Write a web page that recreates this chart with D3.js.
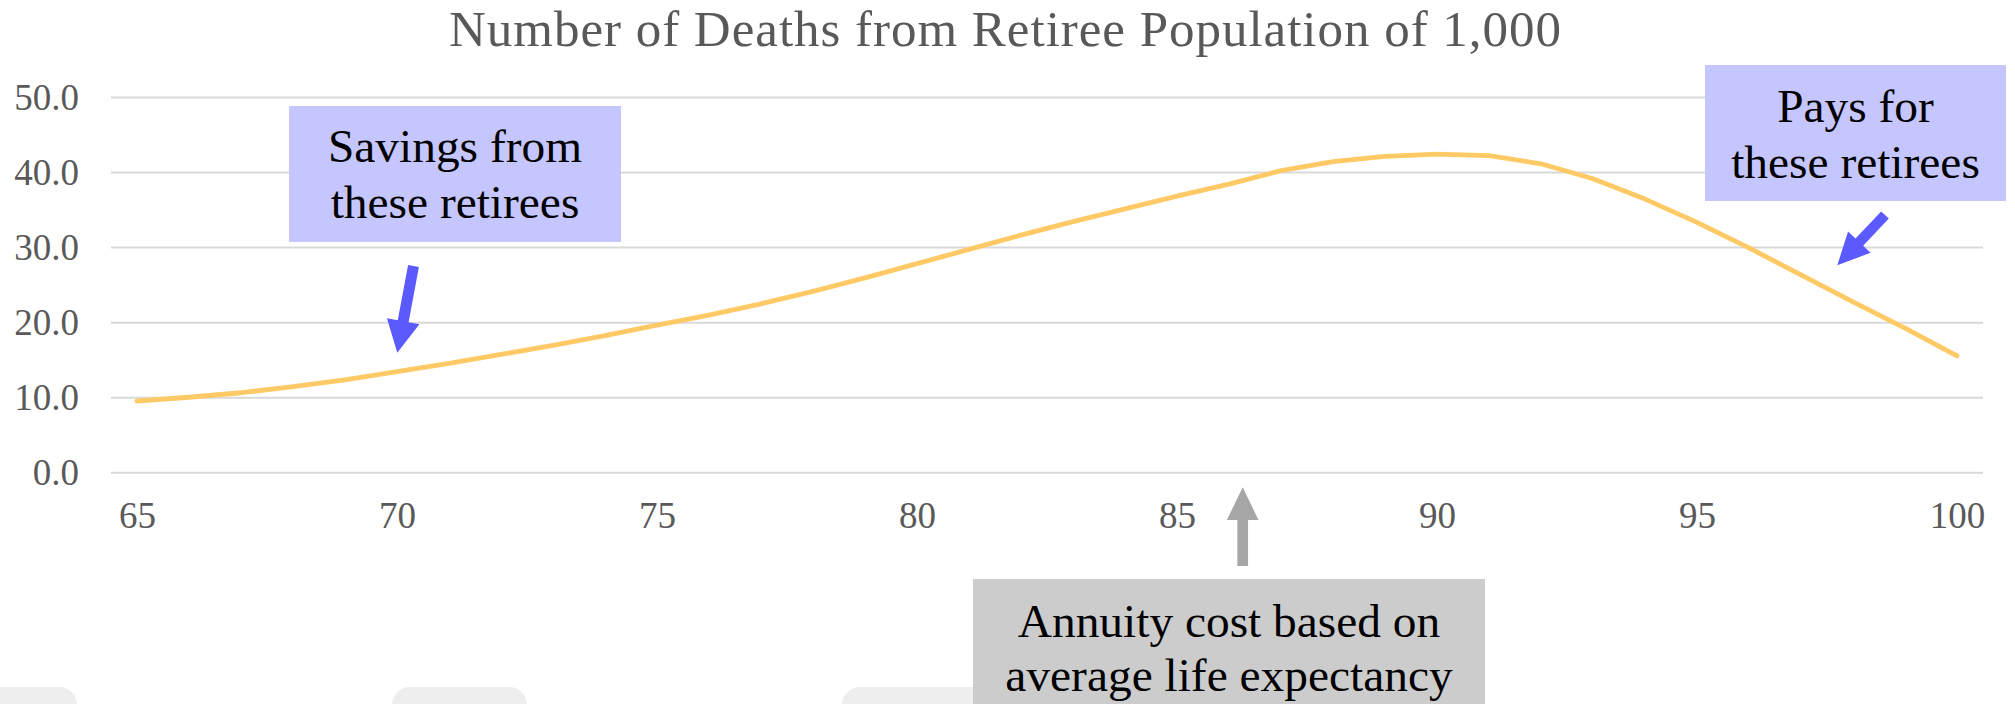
<!DOCTYPE html>
<html>
<head>
<meta charset="utf-8">
<script src="https://cdn.jsdelivr.net/npm/d3@7"></script>
<style>
  html, body { margin: 0; padding: 0; background: #fff; }
  svg { display: block; font-family: "Liberation Serif", "Times New Roman", serif; }
</style>
</head>
<body>
<svg id="chart" width="2015" height="704"></svg>
<script>
// ages on the category axis
var ages = [65, 66, 67, 68, 69, 70, 71, 72, 73, 74, 75, 76, 77, 78, 79, 80, 81, 82,
            83, 84, 85, 86, 87, 88, 89, 90, 91, 92, 93, 94, 95, 96, 97, 98, 99, 100];
// deaths per 1,000 retirees at each age
var deaths = [9.5, 10.0, 10.6, 11.4, 12.3, 13.4, 14.5, 15.7, 16.9, 18.2,
              19.6, 20.95, 22.45, 24.1, 25.9, 27.8, 29.7, 31.6, 33.4, 35.1,
              36.8, 38.4, 40.2, 41.4, 42.1, 42.4, 42.2, 41.1, 39.1, 36.4,
              33.3, 29.9, 26.3, 22.7, 19.2, 15.5];
var xTickLabels = [65, 70, 75, 80, 85, 90, 95, 100];
var yTickLabels = [0, 10, 20, 30, 40, 50];

var chartTitle = "Number of Deaths from Retiree Population of 1,000";
var savingsText = ["Savings from", "these retirees"];
var paysText = ["Pays for", "these retirees"];
var annuityText = ["Annuity cost based on", "average life expectancy"];

var svg = d3.select("#chart");

var plotLeft = 111, plotRight = 1983, plotTop = 97, plotBottom = 472.3;

var xScale = d3.scalePoint()
               .domain(ages)
               .range([plotLeft, plotRight])
               .padding(0.5);
var yScale = d3.scaleLinear()
               .domain([0, 50])
               .range([plotBottom, plotTop]);

// faint rounded tabs peeking in at the bottom edge
[[-20, 97], [392, 135], [842, 160]].forEach(function (t) {
  svg.append("rect")
     .attr("x", t[0]).attr("y", 687)
     .attr("width", t[1]).attr("height", 60)
     .attr("rx", 18)
     .attr("fill", "#eeeeee");
});

// title (wide, like the original rendering)
svg.append("text")
   .attr("x", 1005)
   .attr("y", 46)
   .attr("text-anchor", "middle")
   .attr("fill", "#595959")
   .attr("textLength", 1112)
   .attr("lengthAdjust", "spacing")
   .style("font-size", "51px")
   .text(chartTitle);

// y axis with gridlines
var yAxis = svg.append("g")
  .attr("transform", "translate(" + plotLeft + ",0)")
  .call(d3.axisLeft(yScale)
          .tickValues(yTickLabels)
          .tickFormat(d3.format(".1f"))
          .tickSize(-(plotRight - plotLeft))
          .tickPadding(32));
yAxis.select(".domain").remove();
yAxis.selectAll("line")
     .attr("stroke", "#d9d9d9")
     .attr("stroke-width", 2);
yAxis.selectAll("text")
     .attr("fill", "#595959")
     .attr("dy", "0.33em")
     .style("font-size", "37px")
     .style("font-family", "'Liberation Serif', 'Times New Roman', serif");

// x axis labels
var xAxis = svg.append("g")
  .attr("transform", "translate(0," + plotBottom + ")")
  .call(d3.axisBottom(xScale)
          .tickValues(xTickLabels)
          .tickSize(0));
xAxis.select(".domain").remove();
xAxis.selectAll("text")
     .attr("y", 528 - plotBottom)
     .attr("dy", 0)
     .attr("fill", "#595959")
     .style("font-size", "37px")
     .style("font-family", "'Liberation Serif', 'Times New Roman', serif");

// the series line
var line = d3.line()
  .x(function (d, i) { return xScale(ages[i]); })
  .y(function (d) { return yScale(d); });

svg.append("path")
   .datum(deaths)
   .attr("d", line)
   .attr("fill", "none")
   .attr("stroke", "#ffc965")
   .attr("stroke-width", 4.8)
   .attr("stroke-linecap", "round")
   .attr("stroke-linejoin", "round");

// block arrow from tail to tip
function drawArrow(tail, tip, shaftW, headW, headL, color) {
  var dx = tip[0] - tail[0], dy = tip[1] - tail[1];
  var len = Math.sqrt(dx * dx + dy * dy);
  var ux = dx / len, uy = dy / len;
  var px = -uy, py = ux;
  var bx = tip[0] - ux * headL, by = tip[1] - uy * headL;
  var pts = [
    [tail[0] + px * shaftW / 2, tail[1] + py * shaftW / 2],
    [bx + px * shaftW / 2, by + py * shaftW / 2],
    [bx + px * headW / 2, by + py * headW / 2],
    tip,
    [bx - px * headW / 2, by - py * headW / 2],
    [bx - px * shaftW / 2, by - py * shaftW / 2],
    [tail[0] - px * shaftW / 2, tail[1] - py * shaftW / 2]
  ];
  svg.append("polygon")
     .attr("points", pts.map(function (p) { return p.join(","); }).join(" "))
     .attr("fill", color);
}

// text box with two centred lines
function drawBox(x, y, w, h, fill, lines, baselines) {
  svg.append("rect")
     .attr("x", x).attr("y", y)
     .attr("width", w).attr("height", h)
     .attr("fill", fill);
  svg.selectAll(null)
     .data(lines)
     .enter().append("text")
     .attr("x", x + w / 2)
     .attr("y", function (d, i) { return baselines[i]; })
     .attr("text-anchor", "middle")
     .attr("fill", "#000")
     .style("font-size", "47.4px")
     .text(function (d) { return d; });
}

drawBox(289, 106, 332, 136, "#c6c6ff", savingsText, [161.5, 218]);
drawArrow([413.5, 266], [397.3, 352.7], 11, 33, 32, "#5a5aff");

drawBox(1705, 65, 301, 136, "#c6c6ff", paysText, [121.5, 178]);
drawArrow([1885, 215], [1837.3, 265.3], 10.5, 31, 32, "#5a5aff");

drawArrow([1242.7, 566], [1242.7, 487.3], 10.7, 31.6, 32.7, "#a6a6a6");
drawBox(973, 579, 512, 140, "#cccccc", annuityText, [636.7, 691]);
</script>
</body>
</html>
